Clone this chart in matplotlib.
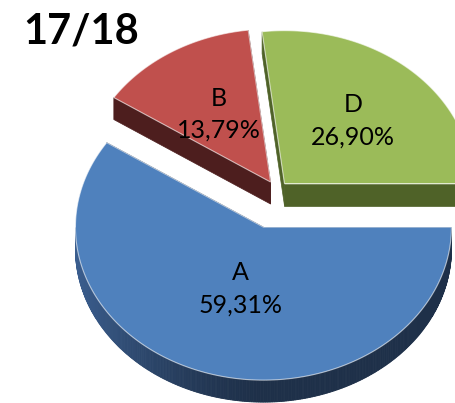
import numpy as np
import matplotlib
matplotlib.use("Agg")
import matplotlib.pyplot as plt
from matplotlib.patches import Polygon
from matplotlib.colors import to_rgb

# data
title = "17/18"
labels = ["A", "B", "D"]
values = [59.31, 13.79, 26.90]
pct_text = ["59,31%", "13,79%", "26,90%"]

# style
top_cols = ["#4F81BD", "#C0504D", "#9BBB59"]
side_cols = ["#1e3049", "#4d1e1e", "#4f6228"]
explode = [0.25, 0.065, 0.06]
label_dist = [0.42, 0.52, 0.55]
draw_order = [1, 2, 0]  # back to front

W, H = 455, 403
cx, cy = 277, 190.5      # pie centre (px)
rx, ry = 188, 153        # ellipse radii of the tilted top face
depth = 22

fig = plt.figure(figsize=(W / 100, H / 100), dpi=100)
ax = fig.add_axes([0, 0, 1, 1])
ax.set_xlim(0, W)
ax.set_ylim(H, 0)
ax.axis("off")


def pt(vx, vy, t, r=1.0, dz=0.0):
    return (vx + r * rx * np.cos(t), vy - r * ry * np.sin(t) + dz)


# angles, clockwise from 3 o'clock
starts = []
s = 0.0
for v in values:
    starts.append(s)
    s -= 360 * v / 100.0

for i in draw_order:
    t1 = np.radians(starts[i])
    t2 = np.radians(starts[i] - 360 * values[i] / 100.0)
    tm = (t1 + t2) / 2
    vx = cx + explode[i] * rx * np.cos(tm)
    vy = cy - explode[i] * ry * np.sin(tm)

    # radial side faces
    for t in (t1, t2):
        p0 = (vx, vy)
        p1 = pt(vx, vy, t)
        face = [p0, p1, (p1[0], p1[1] + depth), (p0[0], p0[1] + depth)]
        ax.add_patch(Polygon(face, closed=True, fc=side_cols[i], ec=side_cols[i], lw=0.5))

    # outer curved side, only the front half shows
    ts = np.linspace(t1, t2, 400)
    ts_norm = np.mod(ts, 2 * np.pi)
    front = ts_norm >= np.pi
    if front.any():
        seg = ts[front]
        base = np.array(to_rgb(side_cols[i]))
        for a, b in zip(seg[:-1], seg[1:]):
            # lighter on the left, darker towards the right
            k = np.clip(-np.cos(a), 0, 1)
            col = np.clip(base * (1.0 + 0.95 * k ** 1.5), 0, 1)
            q = [pt(vx, vy, a), pt(vx, vy, b), pt(vx, vy, b, dz=depth), pt(vx, vy, a, dz=depth)]
            ax.add_patch(Polygon(q, closed=True, fc=col, ec=col, lw=0.6))

    # top face
    arc = [pt(vx, vy, t) for t in np.linspace(t1, t2, 200)]
    top = [(vx, vy)] + arc
    ax.add_patch(Polygon(top, closed=True, fc=top_cols[i], ec=(1, 1, 1, 0.6), lw=0.8))

    lx, ly = pt(vx, vy, tm, r=label_dist[i])
    ax.text(lx, ly - 16, labels[i], ha="center", va="center", fontsize=18, family="Lato")
    ax.text(lx, ly + 16, pct_text[i], ha="center", va="center", fontsize=18, family="Lato")

ax.text(23, 44, title, ha="left", va="baseline", fontsize=30, fontweight="bold", family="Lato")

fig.savefig("out.png", dpi=100)
